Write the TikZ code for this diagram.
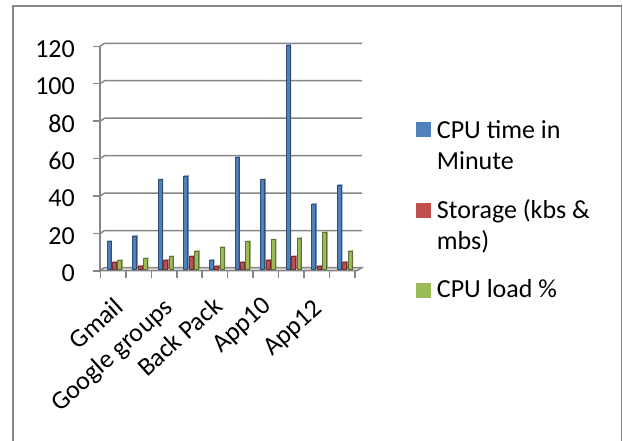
\documentclass[tikz,border=0pt]{standalone}
\usepackage{fontspec}
\setmainfont{Carlito}
\definecolor{gridgray}{HTML}{868686}
\definecolor{cblue}{HTML}{4F81BD}
\definecolor{cred}{HTML}{C0504D}
\definecolor{cgreen}{HTML}{9BBB59}
\newcommand{\mybar}[3]{%
  \pgfmathsetmacro\btop{269.5-#2*1.8725}%
  \fill[#3] (#1,269.5) rectangle (#1+4,\btop);
  \fill[#3!70!black] (#1+4,269.5) -- (#1+5.2,268.5) -- (#1+5.2,\btop-1) -- (#1+4,\btop) -- cycle;
  \fill[#3!60!white] (#1,\btop) -- (#1+1.2,\btop-1) -- (#1+5.2,\btop-1) -- (#1+4,\btop) -- cycle;
  \draw[#3!60!black, line width=0.3pt] (#1,269.5) rectangle (#1+4,\btop);
}
\begin{document}
\begin{tikzpicture}[x=1pt,y=-1pt,
  lbl/.style={font=\fontsize{26}{31}\selectfont, inner sep=0pt, text=black},
  xlbl/.style={lbl, rotate=42, anchor=center},
  gridl/.style={draw=gridgray, line width=1.5pt},
  frame/.style={draw=gridgray, line width=1.6pt}]
\useasboundingbox (0,0) rectangle (623,441);
% outer frame
\draw[frame] (13,441) -- (13,6) -- (621.5,6) -- (621.5,441);
% floor
\fill[gray!25] (100,270.5) -- (104.5,267.5) -- (362,267.5) -- (357.5,270.5) -- cycle;
\draw[gridl] (100,270.5) -- (104.5,267.5) -- (362,267.5) -- (357.5,270.5) -- cycle;
% gridlines on back wall with diagonal on left wall
\foreach \v in {20,40,...,120} {
  \draw[gridl] (100,{271-\v*1.8725}) -- (104.5,{268-\v*1.8725}) -- (362,{268-\v*1.8725});
}
% vertical axis and ticks
\draw[gridl] (100,{271-120*1.8725}) -- (100,271);
\foreach \v in {0,20,...,120} {
  \draw[gridl] (93.3,{271-\v*1.8725}) -- (100,{271-\v*1.8725});
}
% x axis ticks
\foreach \i in {0,...,10} {
  \draw[gridl] ({100.5+\i*25.43},270.5) -- ({100.5+\i*25.43},277.5);
}
% bars
\foreach \b/\r/\g [count=\i from 0] in {15/4/5,18/2/6,48/5/7,50/7/10,5/2/12,60/4/15,48/5/16,120/7/17,35/2/20,45/4/10} {
  \pgfmathsetmacro\xx{106.7+\i*25.6}
  \mybar{\xx}{\b}{cblue}
  \mybar{\xx+5.4}{\r}{cred}
  \mybar{\xx+10.8}{\g}{cgreen}
}
% y labels
\foreach \v in {0,20,...,120} {
  \node[lbl, anchor=east] (y\v) at (75,{273.5-\v*1.8725}) {\v};
}
% x labels
\node[xlbl] (xgmail) at (95.8,323.5) {Gmail};
\node[xlbl] (xgoogle) at (112.5,356) {Google groups};
\node[xlbl] (xback) at (179.5,336.5) {Back Pack};
\node[xlbl] (xapp10) at (242.5,326) {App10};
\node[xlbl] (xapp12) at (293.5,329) {App12};
% legend
\fill[cblue] (416,121.7) rectangle (431,136.7);
\fill[cred] (416,202.5) rectangle (431,217.5);
\fill[cgreen] (416,282.5) rectangle (431,297.5);
\node[lbl, anchor=north west, align=left] (leg1) at (436.7,120) {CPU time in\\Minute};
\node[lbl, anchor=north west, align=left] (leg2) at (436.7,199.5) {Storage (kbs \&\\mbs)};
\node[lbl, anchor=north west, align=left] (leg3) at (436.7,279.5) {CPU load \%};
\end{tikzpicture}
\end{document}
